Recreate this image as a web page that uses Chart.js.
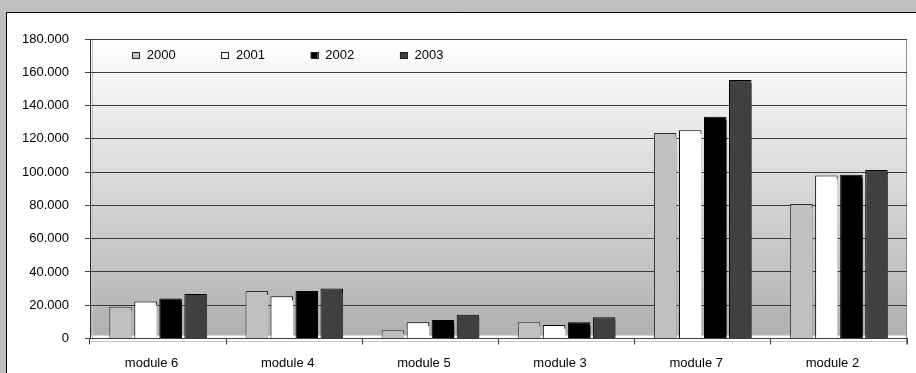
<!DOCTYPE html>
<html>
<head>
<meta charset="utf-8">
<title>Modules 2000–2003</title>
<script src="https://cdn.jsdelivr.net/npm/chart.js@4/dist/chart.umd.min.js"></script>
<style>
  html, body { margin: 0; padding: 0; background: #c0c0c0; }
  #wrap { position: absolute; left: 0; top: 0; width: 916px; height: 373px; }
</style>
</head>
<body>
<div id="wrap"><canvas id="c" width="916" height="373"></canvas></div>
<script>
// Categories and yearly values per module
const categories = ['module 6', 'module 4', 'module 5', 'module 3', 'module 7', 'module 2'];
const years = ['2000', '2001', '2002', '2003'];
const values2000 = [19100, 28600, 4900, 9750, 123500, 80800];
const values2001 = [22200, 25400, 9750, 8100, 125100, 98000];
const values2002 = [24000, 28600, 11100, 9750, 133200, 98400];
const values2003 = [26800, 30000, 14300, 12800, 155400, 101300];
const yTicks = [0, 20000, 40000, 60000, 80000, 100000, 120000, 140000, 160000, 180000];

const fills = ['#c0c0c0', '#ffffff', '#000000', '#404040'];
const FONT = '"Liberation Sans", Arial, sans-serif';

function fmtThousands(v) {
  return String(v).replace(/\B(?=(\d{3})+(?!\d))/g, '.');
}

// Grey page, white panel with black frame, gradient plot wall and floor
const panelPlugin = {
  id: 'panel',
  beforeDraw(chart) {
    const { ctx, chartArea: a, width, height } = chart;
    ctx.save();
    ctx.fillStyle = '#c0c0c0';
    ctx.fillRect(0, 0, width, height);
    ctx.fillStyle = '#ffffff';
    ctx.fillRect(7, 13, width - 7, height - 13);
    ctx.strokeStyle = '#000000';
    ctx.lineWidth = 1;
    ctx.beginPath();
    ctx.moveTo(6.5, height);
    ctx.lineTo(6.5, 12.5);
    ctx.lineTo(width, 12.5);
    ctx.stroke();

    const g = ctx.createLinearGradient(0, a.top, 0, a.bottom - 3);
    g.addColorStop(0, '#ffffff');
    g.addColorStop(1, '#b0b0b0');
    ctx.fillStyle = g;
    ctx.fillRect(a.left, a.top, a.right - a.left, a.bottom - 3 - a.top);

    // floor edge and inner wall edge
    ctx.strokeStyle = '#c4c4c4';
    ctx.beginPath();
    ctx.moveTo(a.left, Math.round(a.bottom) + 2.5);
    ctx.lineTo(a.right, Math.round(a.bottom) + 2.5);
    ctx.moveTo(Math.round(a.left) + 2.5, a.top);
    ctx.lineTo(Math.round(a.left) + 2.5, a.bottom);
    ctx.stroke();

    ctx.strokeStyle = '#8c8c8c';
    ctx.beginPath();
    ctx.moveTo(Math.round(a.right) - 0.5, a.top);
    ctx.lineTo(Math.round(a.right) - 0.5, a.bottom + 6);
    ctx.stroke();
    ctx.restore();
  }
};

// Each bar gets an offset copy of its own colour for a little depth
const depthPlugin = {
  id: 'depth',
  beforeDatasetDraw(chart, args) {
    const ctx = chart.ctx;
    ctx.save();
    ctx.shadowColor = fills[args.index];
    ctx.shadowOffsetX = 3;
    ctx.shadowOffsetY = 3;
    ctx.shadowBlur = 0;
  },
  afterDatasetDraw(chart) {
    chart.ctx.restore();
  }
};

// Legend row drawn inside the top band of the plot
const innerLegend = {
  id: 'innerLegend',
  afterDraw(chart) {
    const { ctx, chartArea: a } = chart;
    ctx.save();
    ctx.font = '13px ' + FONT;
    ctx.textBaseline = 'middle';
    ctx.textAlign = 'left';
    chart.data.datasets.forEach((ds, i) => {
      const x = a.left + 42 + i * 89.3;
      const y = a.top + 13;
      ctx.fillStyle = ds.backgroundColor;
      ctx.fillRect(x, y, 7, 6);
      ctx.strokeStyle = '#202020';
      ctx.lineWidth = 1;
      ctx.strokeRect(Math.round(x) + 0.5, Math.round(y) + 0.5, 7, 6);
      ctx.fillStyle = '#000000';
      ctx.fillText(ds.label, x + 14.7, y + 3.5);
    });
    ctx.restore();
  }
};

const seriesValues = [values2000, values2001, values2002, values2003];

new Chart(document.getElementById('c'), {
  type: 'bar',
  data: {
    labels: categories,
    datasets: years.map((yr, i) => ({
      label: yr,
      data: seriesValues[i],
      backgroundColor: fills[i],
      borderColor: i === 0 ? '#303030' : '#000000',
      borderWidth: 1,
      categoryPercentage: 0.735,
      barPercentage: 0.9,
      clip: false
    }))
  },
  options: {
    responsive: false,
    animation: false,
    devicePixelRatio: 1,
    layout: { padding: { left: 0, top: 39, right: 9, bottom: 0 } },
    plugins: {
      legend: { display: false },
      tooltip: { enabled: false }
    },
    scales: {
      x: {
        grid: {
          offset: true,
          drawOnChartArea: false,
          drawTicks: true,
          tickLength: 6,
          color: '#404040'
        },
        border: { display: true, color: '#404040', width: 1 },
        ticks: {
          color: '#000000',
          font: { family: FONT, size: 13 },
          padding: 11,
          labelOffset: -6.5,
          maxRotation: 0
        },
        afterFit(scale) { scale.height = 34.5; }
      },
      y: {
        min: 0,
        max: 180000,
        afterBuildTicks(scale) {
          scale.ticks = yTicks.map(v => ({ value: v }));
        },
        grid: {
          color: '#3c3c3c',
          tickLength: 5,
          drawTicks: true
        },
        border: { display: true, color: '#303030', width: 1 },
        ticks: {
          color: '#000000',
          font: { family: FONT, size: 13 },
          padding: 16,
          callback: (v) => fmtThousands(v)
        },
        afterFit(scale) { scale.width = 90; }
      }
    }
  },
  plugins: [panelPlugin, depthPlugin, innerLegend]
});
</script>
</body>
</html>
